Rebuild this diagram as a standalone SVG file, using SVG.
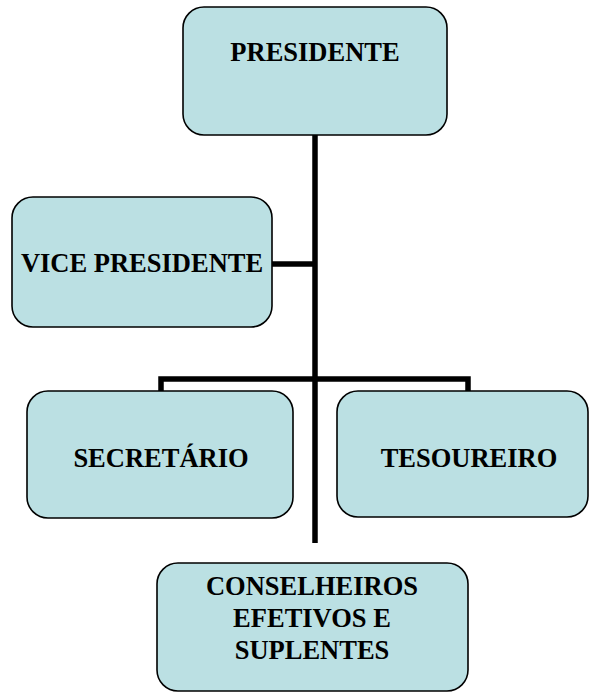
<svg xmlns="http://www.w3.org/2000/svg" width="590" height="693" viewBox="0 0 590 693">
<style>
.box{fill:#BBE0E3;stroke:#000;stroke-width:1.6}
.t{font-family:"Liberation Serif","Times New Roman",serif;font-weight:bold;font-size:26.5px;fill:#000;text-anchor:middle}
.c{fill:none;stroke:#000;stroke-width:5.5}
</style>
<rect width="590" height="693" fill="#fff"/>
<g id="connectors">
<path class="c" d="M315,135 V543"/>
<path class="c" d="M272,264 H315"/>
<path class="c" d="M161,391 V379 H468 V391"/>
</g>
<g id="presidente">
<rect class="box" x="183" y="7" width="264" height="128" rx="21"/>
<text class="t" x="315" y="61">PRESIDENTE</text>
</g>
<g id="vice">
<rect class="box" x="12" y="197" width="260" height="130" rx="21"/>
<text class="t" x="142" y="272">VICE PRESIDENTE</text>
</g>
<g id="secretario">
<rect class="box" x="27" y="391" width="266" height="127" rx="21"/>
<text class="t" x="161" y="467">SECRETÁRIO</text>
</g>
<g id="tesoureiro">
<rect class="box" x="337" y="391" width="251" height="126" rx="21"/>
<text class="t" x="469" y="467">TESOUREIRO</text>
</g>
<g id="conselheiros">
<rect class="box" x="157" y="563" width="311" height="128" rx="21"/>
<text class="t" x="312" y="595">CONSELHEIROS</text>
<text class="t" x="312" y="627">EFETIVOS E</text>
<text class="t" x="312" y="659">SUPLENTES</text>
</g>
</svg>
